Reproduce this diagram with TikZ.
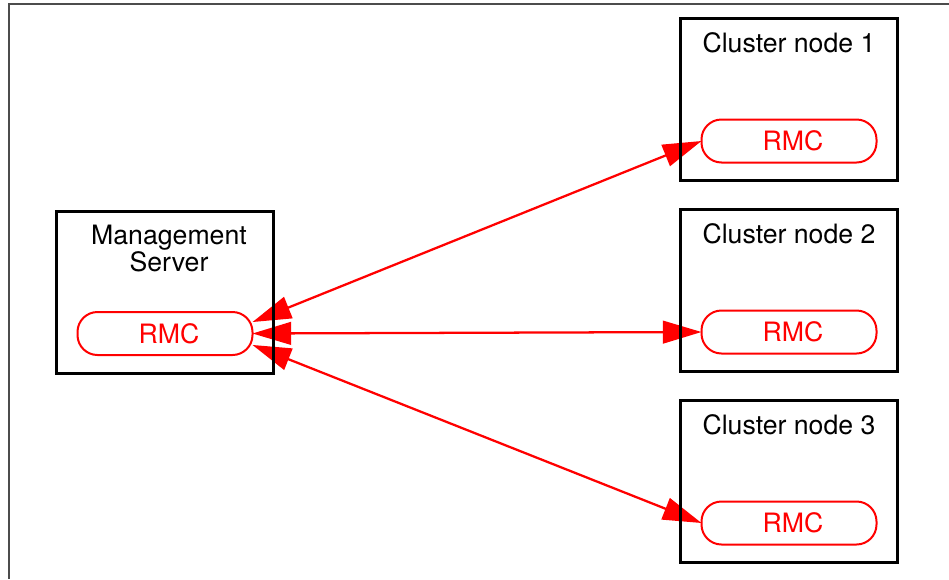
\documentclass[tikz,border=0pt]{standalone}
\usepackage{fontspec}
\setmainfont{TeX Gyre Heros}
\usetikzlibrary{arrows.meta, positioning, backgrounds}

\begin{document}
\begin{tikzpicture}[x=0.75pt, y=-0.75pt, font=\fontsize{20}{20.25}\selectfont]
	\tikzstyle{box} = [draw, line width=2.25pt, rectangle, minimum width=162.75pt, minimum height=121.5pt, inner sep=0pt, outer sep=0pt]
	\tikzstyle{title} = [inner sep=0pt, align=center]
	\tikzstyle{rmc} = [draw=red, text=red, line width=1.5pt, rectangle, rounded corners=15pt, minimum width=131.25pt, minimum height=32.25pt, inner sep=0pt, outer sep=0pt, execute at begin node=\hspace*{6pt}]
	\tikzstyle{link} = [red, line width=1.7pt, {Triangle[length=29pt, width=17pt]}-{Triangle[length=29pt, width=17pt]}]
	
	\useasboundingbox (0,0) rectangle (949,579);
	\draw[black!70, line width=1.1pt] (949,4) -- (9,4) -- (9,579);
	
	\node[box] (ms) at (165,292) {};
	\node[title, below=10.5pt of ms.north, xshift=3pt] (mst) {Management\\Server};
	\node[rmc, above=13.5pt of ms.south] (msr) {RMC};
	
	\foreach \i/\y in {1/99.5, 2/290.5, 3/481.5} {
		\node[box] (c\i) at (789,\y) {};
		\node[title, below=10.5pt of c\i.north] (t\i) {Cluster node \i};
		\node[rmc, above=13.5pt of c\i.south] (r\i) {RMC};
	}
	
	\begin{pgfonlayer}{background}
		\draw[link] ([yshift=8.6pt]msr.east) -- (r1.west);
		\draw[link] (msr.east) -- (r2.west);
		\draw[link] ([yshift=-8.6pt]msr.east) -- (r3.west);
	\end{pgfonlayer}
\end{tikzpicture}
\end{document}
